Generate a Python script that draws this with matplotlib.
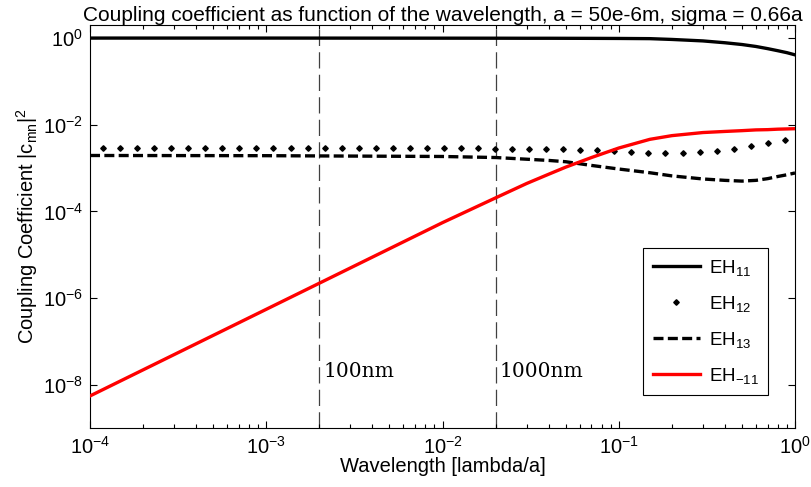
import matplotlib
matplotlib.use("Agg")
import matplotlib.pyplot as plt
import numpy as np
from matplotlib.ticker import FixedLocator, FuncFormatter, LogLocator, NullLocator

# Styling constants
FONT_SANS = ["Liberation Sans", "DejaVu Sans"]
FONT_SERIF = ["DejaVu Serif"]
LINE_WIDTH = 2.4
GUIDE_COLOR = "#404040"
RED = "#FF0000"

plt.rcParams["font.family"] = FONT_SANS
plt.rcParams["mathtext.fontset"] = "custom"
plt.rcParams["mathtext.rm"] = "Liberation Sans"
plt.rcParams["mathtext.it"] = "Liberation Sans:italic"
plt.rcParams["mathtext.bf"] = "Liberation Sans:bold"

# Data (wavelength in units of lambda/a)
wavelength = [1e-4, 1e-3, 1e-2, 2e-2, 3e-2, 4e-2, 5e-2, 7e-2, 0.1, 0.15,
              0.2, 0.3, 0.4, 0.5, 0.6, 0.7, 0.8, 0.9, 1.0]
eh11 = [1.0, 1.0, 0.995, 0.993, 0.99, 0.99, 0.988, 0.985, 0.98, 0.97,
        0.93, 0.86, 0.78, 0.71, 0.64, 0.57, 0.51, 0.46, 0.41]
eh13 = [1.95e-3, 1.93e-3, 1.85e-3, 1.75e-3, 1.6e-3, 1.5e-3, 1.4e-3, 1.15e-3,
        9.5e-4, 7.8e-4, 6.6e-4, 5.6e-4, 5.2e-4, 5.0e-4, 5.2e-4, 5.7e-4,
        6.4e-4, 7.0e-4, 7.7e-4]
eh_m11 = [5.5e-9, 5.5e-7, 5.5e-5, 2.05e-4, 4.4e-4, 7.2e-4, 1.05e-3, 1.75e-3,
          2.9e-3, 4.6e-3, 5.6e-3, 6.6e-3, 7.0e-3, 7.3e-3, 7.6e-3, 7.7e-3,
          7.9e-3, 8.0e-3, 8.1e-3]

eh12_wavelength = [1.186e-4, 1.482e-4, 1.849e-4, 2.312e-4, 2.891e-4,
                   3.606e-4, 4.508e-4, 5.636e-4, 7.047e-4, 8.79e-4,
                   1.099e-3, 1.374e-3, 1.714e-3, 2.143e-3, 2.679e-3,
                   3.342e-3, 4.178e-3, 5.224e-3, 6.531e-3, 8.147e-3,
                   1.019e-2, 1.274e-2, 1.589e-2, 1.986e-2, 2.483e-2,
                   3.097e-2, 3.873e-2, 4.842e-2, 6.053e-2, 7.551e-2,
                   9.441e-2, 0.1180, 0.1472, 0.1841, 0.2301,
                   0.2871, 0.3589, 0.4487, 0.5610, 0.6998, 0.8750]
eh12 = [2.9e-3] * 21 + [2.88e-3, 2.85e-3, 2.82e-3, 2.8e-3, 2.78e-3,
                        2.75e-3, 2.7e-3, 2.65e-3, 2.57e-3, 2.45e-3,
                        2.35e-3, 2.28e-3, 2.25e-3, 2.24e-3, 2.3e-3,
                        2.5e-3, 2.8e-3, 3.16e-3, 3.8e-3, 4.5e-3]

guide_wavelengths = [2e-3, 2e-2]
guide_labels = ["100nm", "1000nm"]
guide_label_y = 2.0e-8

x_limits = (1e-4, 1.0)
y_limits = (1e-9, 2.0)
y_ticks = [1e-8, 1e-6, 1e-4, 1e-2, 1.0]


def power_label(value, _pos):
    return r"$\mathregular{10^{%d}}$" % round(np.log10(value))


def main():
    fig = plt.figure(figsize=(8.11, 4.87), dpi=100, facecolor="white")
    ax = fig.add_axes([0.1110, 0.1211, 0.8693, 0.8275])

    for x_pos, text in zip(guide_wavelengths, guide_labels):
        ax.axvline(x_pos, color=GUIDE_COLOR, linewidth=0.9,
                   dashes=(13, 5), zorder=1)
        ax.annotate(text, xy=(x_pos, guide_label_y), xytext=(3, 0),
                    textcoords="offset points", va="center", ha="left",
                    fontsize=14.5, family=FONT_SERIF)

    ax.plot(wavelength, eh11, color="black", linewidth=LINE_WIDTH,
            label=r"EH$_{11}$", zorder=3)
    ax.plot(eh12_wavelength, eh12, linestyle="none", marker="D",
            markersize=2.8, color="black", label=r"EH$_{12}$", zorder=3)
    ax.plot(wavelength, eh13, color="black", linewidth=LINE_WIDTH,
            dashes=(3.0, 1.3), label=r"EH$_{13}$", zorder=3)
    ax.plot(wavelength, eh_m11, color=RED, linewidth=LINE_WIDTH,
            label=r"EH$_{\mathregular{-11}}$", zorder=3)

    ax.set_xscale("log")
    ax.set_yscale("log")
    ax.set_xlim(*x_limits)
    ax.set_ylim(*y_limits)

    ax.xaxis.set_major_locator(LogLocator(base=10, numticks=10))
    ax.xaxis.set_minor_locator(LogLocator(base=10, subs=np.arange(2, 10),
                                          numticks=50))
    ax.yaxis.set_major_locator(FixedLocator(y_ticks))
    ax.yaxis.set_minor_locator(NullLocator())
    ax.xaxis.set_major_formatter(FuncFormatter(power_label))
    ax.yaxis.set_major_formatter(FuncFormatter(power_label))

    ax.tick_params(which="both", direction="in", top=True, right=True,
                   labelsize=14.5, width=0.8)
    ax.tick_params(which="major", length=5)
    ax.tick_params(which="minor", length=3)
    ax.tick_params(axis="x", pad=6)
    ax.tick_params(axis="y", pad=5)
    for spine in ax.spines.values():
        spine.set_linewidth(0.8)

    ax.set_title("Coupling coefficient as function of the wavelength, "
                 "a = 50e-6m, sigma = 0.66a", fontsize=15, pad=3)
    ax.set_xlabel("Wavelength [lambda/a]", fontsize=14.5, labelpad=-1)
    ax.set_ylabel(r"Coupling Coefficient |c$_{\mathregular{mn}}$|$^2$",
                  fontsize=14.5, labelpad=2)

    legend = ax.legend(loc="lower right", bbox_to_anchor=(0.962, 0.082),
                       borderaxespad=0, fontsize=13.5, handlelength=2.5,
                       handletextpad=0.5, labelspacing=0.85, borderpad=0.5,
                       fancybox=False, framealpha=1, edgecolor="black")
    legend.get_frame().set_linewidth(0.8)

    fig.savefig("out.png", dpi=100)


if __name__ == "__main__":
    main()
